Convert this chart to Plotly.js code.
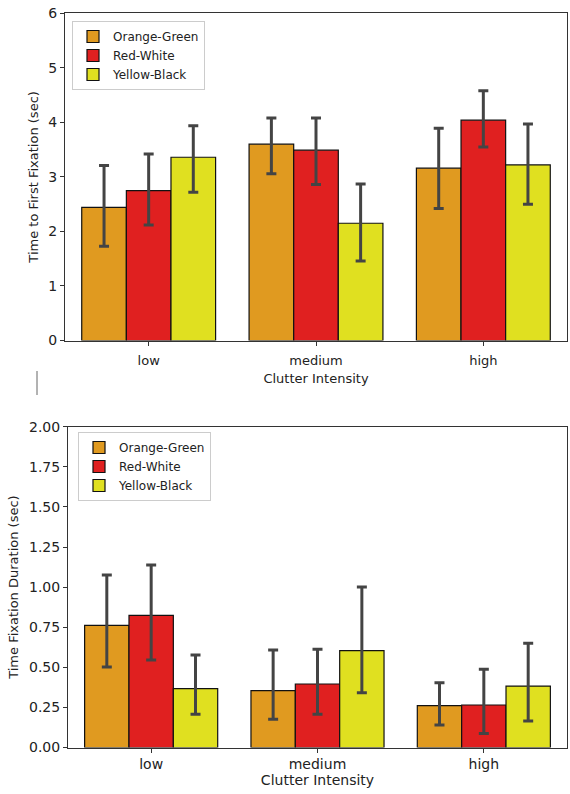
<!DOCTYPE html>
<html>
<head>
<meta charset="utf-8">
<script src="https://cdn.plot.ly/plotly-3.0.1.min.js"></script>
<style>html,body{margin:0;padding:0;background:#fff;}#chart{width:570px;height:794px;}</style>
</head>
<body>
<div id="chart"></div>
<script>
// ---- data ----
const categories = ["low", "medium", "high"];
const seriesNames = ["Orange-Green", "Red-White", "Yellow-Black"];

// Top chart: Time to First Fixation (sec)
const ttffMean  = { "Orange-Green": [2.44, 3.60, 3.16], "Red-White": [2.75, 3.49, 4.04], "Yellow-Black": [3.36, 2.15, 3.22] };
const ttffUpper = { "Orange-Green": [3.21, 4.08, 3.89], "Red-White": [3.42, 4.08, 4.58], "Yellow-Black": [3.94, 2.87, 3.97] };
const ttffLower = { "Orange-Green": [1.73, 3.06, 2.42], "Red-White": [2.12, 2.86, 3.55], "Yellow-Black": [2.72, 1.46, 2.50] };

// Bottom chart: Time Fixation Duration (sec)
const tfdMean  = { "Orange-Green": [0.762, 0.354, 0.261], "Red-White": [0.824, 0.396, 0.265], "Yellow-Black": [0.367, 0.604, 0.383] };
const tfdUpper = { "Orange-Green": [1.075, 0.608, 0.404], "Red-White": [1.138, 0.612, 0.488], "Yellow-Black": [0.577, 1.000, 0.650] };
const tfdLower = { "Orange-Green": [0.502, 0.176, 0.140], "Red-White": [0.545, 0.207, 0.088], "Yellow-Black": [0.207, 0.342, 0.165] };

const colors = { "Orange-Green": "#E09A20", "Red-White": "#E02020", "Yellow-Black": "#E0E020" };

// ---- traces ----
function makeTraces(mean, upper, lower, xa, ya, leg) {
  return seriesNames.map(name => ({
    type: "bar",
    name: name,
    x: categories,
    y: mean[name],
    xaxis: xa, yaxis: ya, legend: leg,
    marker: { color: colors[name], line: { color: "#111", width: 1.2 } },
    error_y: {
      type: "data", symmetric: false,
      array: upper[name].map((u, i) => u - mean[name][i]),
      arrayminus: mean[name].map((m, i) => m - lower[name][i]),
      color: "#444", thickness: 3, width: 5
    },
    hoverinfo: "skip"
  }));
}

const data = [
  ...makeTraces(ttffMean, ttffUpper, ttffLower, "x", "y", "legend"),
  ...makeTraces(tfdMean, tfdUpper, tfdLower, "x2", "y2", "legend2")
];

const fontFam = "DejaVu Sans, sans-serif";
const axCommon = {
  showline: true, linecolor: "#333", linewidth: 1, mirror: true,
  ticks: "outside", ticklen: 4, tickcolor: "#333", showgrid: false, zeroline: false,
  tickfont: { family: fontFam, size: 13, color: "#222" }
};

const layout = {
  width: 570, height: 794,
  margin: { l: 0, r: 0, t: 0, b: 0 },
  paper_bgcolor: "#fff", plot_bgcolor: "#fff",
  font: { family: fontFam, color: "#222" },
  barmode: "group", bargap: 0.2, bargroupgap: 0,
  showlegend: true,
  xaxis: Object.assign({}, axCommon, {
    domain: [65/570, 567/570], anchor: "y", range: [-0.5, 2.5], ticklabelstandoff: 4,
    title: { text: "Clutter Intensity", font: { family: fontFam, size: 13, color: "#222" }, standoff: 6 }
  }),
  yaxis: Object.assign({}, axCommon, {
    domain: [1 - 340.5/794, 1 - 13.3/794], anchor: "x", range: [0, 6], dtick: 1,
    tickfont: { family: fontFam, size: 14, color: "#222" },
    title: { text: "Time to First Fixation (sec)", font: { family: fontFam, size: 13, color: "#222" }, standoff: 6 }
  }),
  xaxis2: Object.assign({}, axCommon, {
    domain: [68/570, 567/570], anchor: "y2", range: [-0.5, 2.5],
    tickfont: { family: fontFam, size: 14, color: "#222" },
    title: { text: "Clutter Intensity", font: { family: fontFam, size: 14, color: "#222" }, standoff: 3 }
  }),
  yaxis2: Object.assign({}, axCommon, {
    domain: [1 - 747.5/794, 1 - 426.7/794], anchor: "x2", range: [0, 2], dtick: 0.25, tickformat: ".2f",
    tickfont: { family: fontFam, size: 14, color: "#222" },
    title: { text: "Time Fixation Duration (sec)", font: { family: fontFam, size: 13, color: "#222" }, standoff: 7 }
  }),
  legend: {
    x: 72/570, y: 1 - 21/794, xanchor: "left", yanchor: "top",
    bgcolor: "rgba(255,255,255,0.9)", bordercolor: "#ccc", borderwidth: 1,
    font: { family: fontFam, size: 12, color: "#222" }
  },
  legend2: {
    x: 78/570, y: 1 - 432/794, xanchor: "left", yanchor: "top",
    bgcolor: "rgba(255,255,255,0.9)", bordercolor: "#ccc", borderwidth: 1,
    font: { family: fontFam, size: 12, color: "#222" }
  },
  shapes: [
    { type: "line", xref: "paper", yref: "paper", x0: 37/570, x1: 37/570, y0: 1 - 371/794, y1: 1 - 395/794,
      line: { color: "#666", width: 1 } }
  ]
};

Plotly.newPlot("chart", data, layout, { displayModeBar: false, staticPlot: true });
</script>
</body>
</html>
